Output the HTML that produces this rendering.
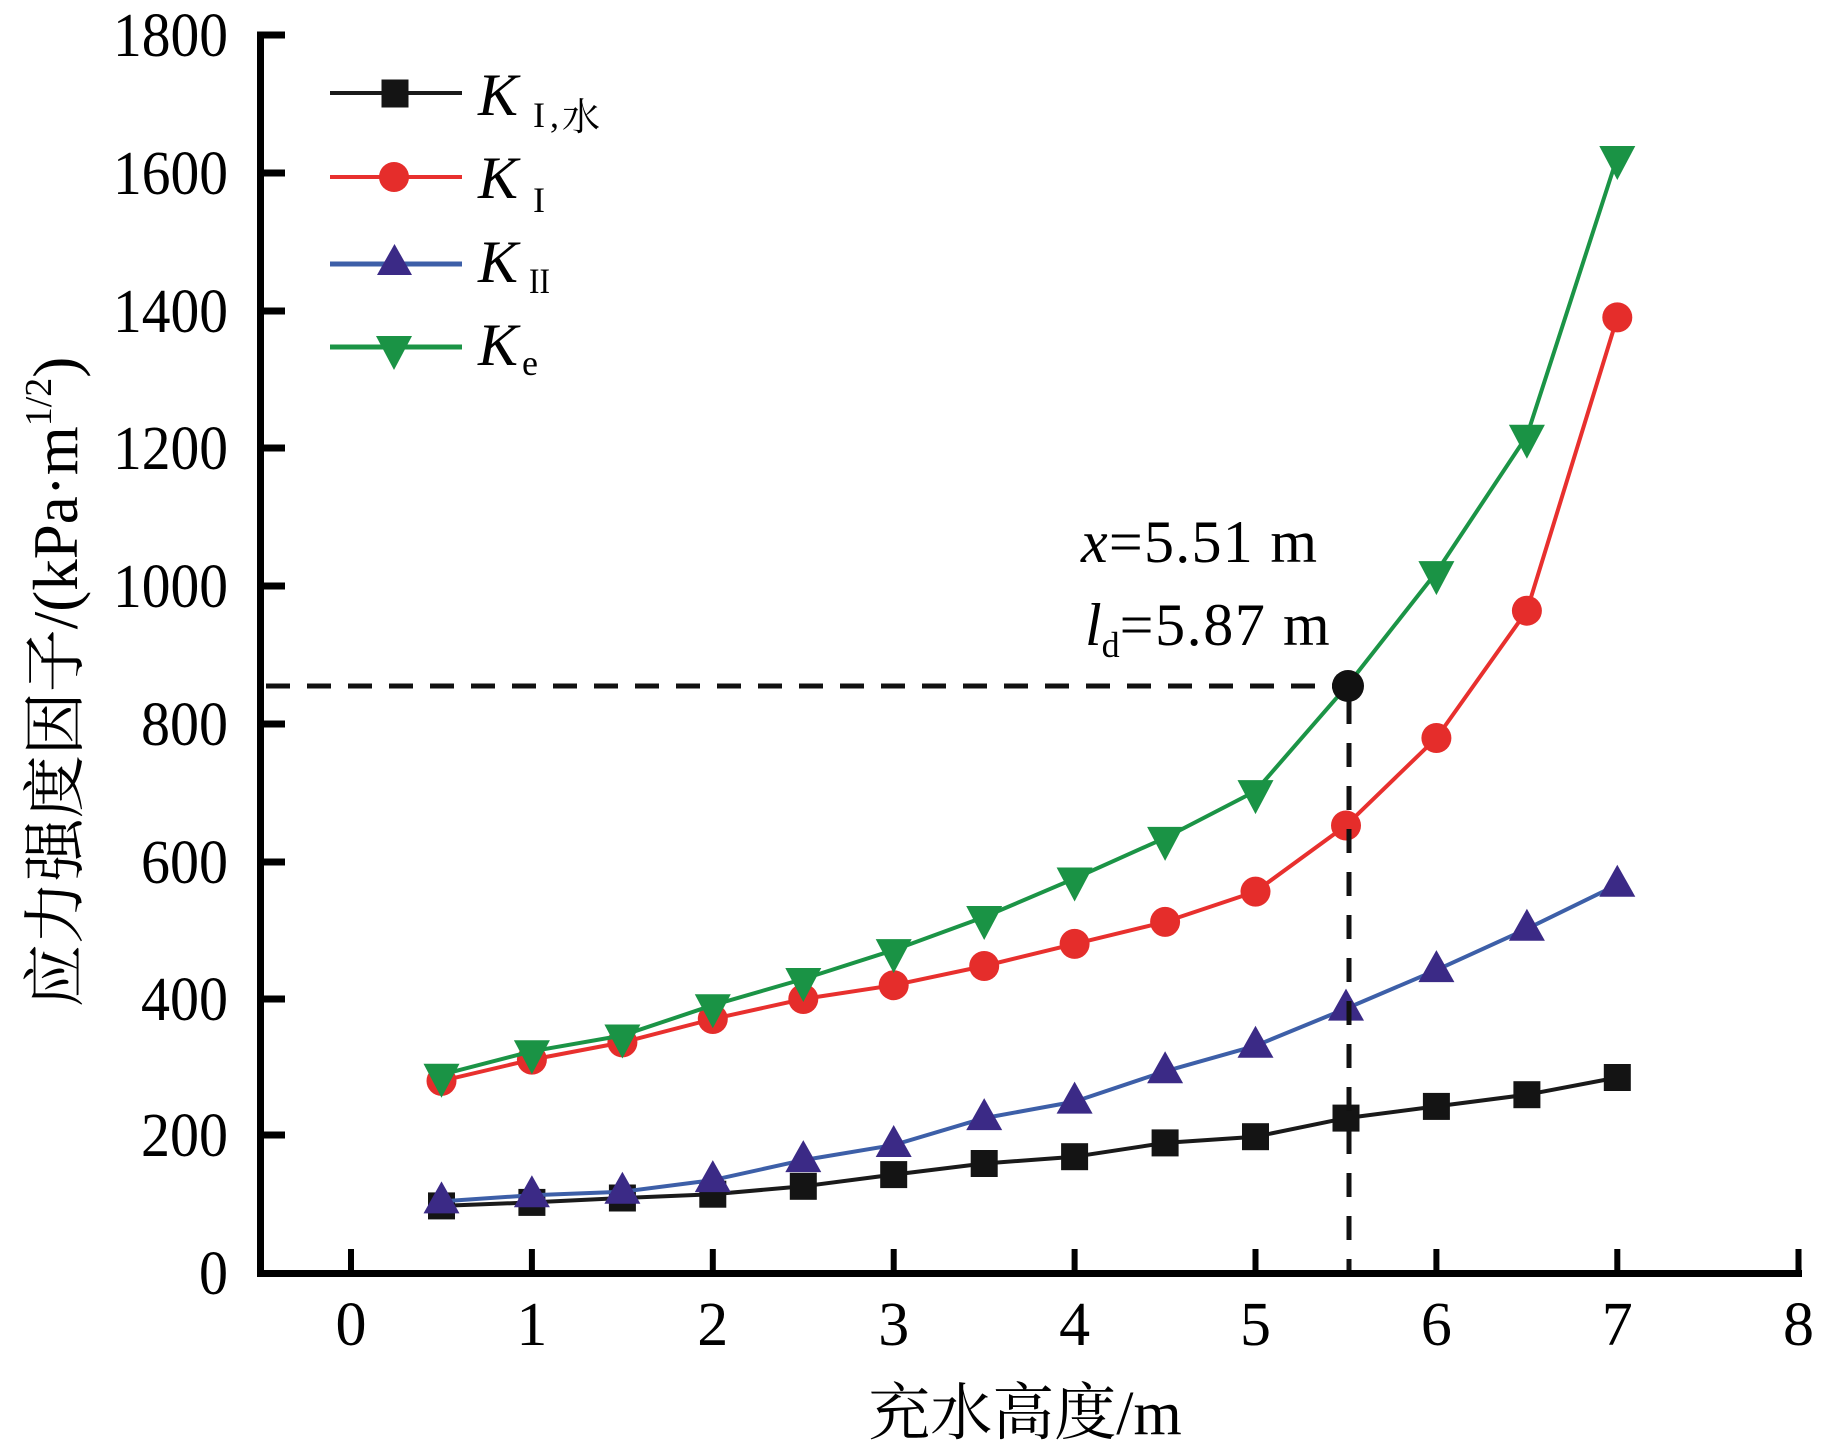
<!DOCTYPE html>
<html>
<head>
<meta charset="utf-8">
<style>
  html, body { margin: 0; padding: 0; background: #ffffff; }
  svg { display: block; }
  .lat { font-family: "Liberation Serif", "Noto Serif CJK SC", serif; }
  .cjk { font-family: "Liberation Serif", "Noto Serif CJK SC", "Noto Sans CJK SC", serif; }
</style>
</head>
<body>
<svg width="1829" height="1454" viewBox="0 0 1829 1454" xmlns="http://www.w3.org/2000/svg">
  <rect x="0" y="0" width="1829" height="1454" fill="#ffffff"/>

  <!-- Axes -->
  <line x1="260.5" y1="31.5" x2="260.5" y2="1277" stroke="#000" stroke-width="7"/>
  <line x1="257" y1="1273.5" x2="1802" y2="1273.5" stroke="#000" stroke-width="7"/>

  <!-- Y ticks -->
  <g stroke="#000" stroke-width="7">
    <line x1="262" y1="35" x2="285" y2="35"/>
    <line x1="262" y1="173" x2="285" y2="173"/>
    <line x1="262" y1="311" x2="285" y2="311"/>
    <line x1="262" y1="448" x2="285" y2="448"/>
    <line x1="262" y1="586" x2="285" y2="586"/>
    <line x1="262" y1="724" x2="285" y2="724"/>
    <line x1="262" y1="862" x2="285" y2="862"/>
    <line x1="262" y1="999" x2="285" y2="999"/>
    <line x1="262" y1="1135" x2="285" y2="1135"/>
  </g>
  <!-- X ticks -->
  <g stroke="#000" stroke-width="6">
    <line x1="351" y1="1249" x2="351" y2="1272"/>
    <line x1="531.9" y1="1249" x2="531.9" y2="1272"/>
    <line x1="712.8" y1="1249" x2="712.8" y2="1272"/>
    <line x1="893.7" y1="1249" x2="893.7" y2="1272"/>
    <line x1="1074.6" y1="1249" x2="1074.6" y2="1272"/>
    <line x1="1255.5" y1="1249" x2="1255.5" y2="1272"/>
    <line x1="1436.4" y1="1249" x2="1436.4" y2="1272"/>
    <line x1="1617.3" y1="1249" x2="1617.3" y2="1272"/>
    <line x1="1798.5" y1="1249" x2="1798.5" y2="1272"/>
  </g>

  <!-- Y tick labels -->
  <g class="lat" font-size="62" fill="#000" text-anchor="end">
    <text x="228" y="56" textLength="115" lengthAdjust="spacingAndGlyphs">1800</text>
    <text x="228" y="194" textLength="115" lengthAdjust="spacingAndGlyphs">1600</text>
    <text x="228" y="332" textLength="115" lengthAdjust="spacingAndGlyphs">1400</text>
    <text x="228" y="469" textLength="115" lengthAdjust="spacingAndGlyphs">1200</text>
    <text x="228" y="607" textLength="115" lengthAdjust="spacingAndGlyphs">1000</text>
    <text x="228" y="745" textLength="87" lengthAdjust="spacingAndGlyphs">800</text>
    <text x="228" y="883" textLength="87" lengthAdjust="spacingAndGlyphs">600</text>
    <text x="228" y="1020" textLength="87" lengthAdjust="spacingAndGlyphs">400</text>
    <text x="228" y="1156" textLength="87" lengthAdjust="spacingAndGlyphs">200</text>
    <text x="228" y="1294" textLength="29" lengthAdjust="spacingAndGlyphs">0</text>
  </g>

  <!-- X tick labels -->
  <g class="lat" font-size="62" fill="#000" text-anchor="middle">
    <text x="351" y="1345">0</text>
    <text x="531.9" y="1345">1</text>
    <text x="712.8" y="1345">2</text>
    <text x="893.7" y="1345">3</text>
    <text x="1074.6" y="1345">4</text>
    <text x="1255.5" y="1345">5</text>
    <text x="1436.4" y="1345">6</text>
    <text x="1617.3" y="1345">7</text>
    <text x="1798.5" y="1345">8</text>
  </g>

  <!-- X axis label -->
  <text class="cjk" x="1025" y="1434" font-size="62" text-anchor="middle" fill="#000">充水高度/m</text>

  <!-- Y axis label -->
  <g transform="translate(77,682) rotate(-90)">
    <text class="cjk" x="0" y="0" font-size="63" text-anchor="middle" fill="#000">应力强度因子/(kPa·m<tspan font-size="38" dy="-26">1/2</tspan><tspan dy="26">)</tspan></text>
  </g>

  <!-- Series: K_I,water (black squares) -->
  <polyline fill="none" stroke="#1a1a1a" stroke-width="4" stroke-linejoin="round"
    points="441.5,1205.9 531.9,1202.4 622.4,1198 712.8,1194.2 803.3,1186.3 893.7,1174.6 984.2,1163.5 1074.6,1156.7 1165.1,1142.9 1255.5,1136.7 1346,1118.1 1436.4,1106.4 1526.9,1094.7 1617.3,1077.5"/>
  <g fill="#141414">
    <rect x="428" y="1192.4" width="27" height="27"/>
    <rect x="518.4" y="1188.9" width="27" height="27"/>
    <rect x="608.9" y="1184.5" width="27" height="27"/>
    <rect x="699.3" y="1180.7" width="27" height="27"/>
    <rect x="789.8" y="1172.8" width="27" height="27"/>
    <rect x="880.2" y="1161.1" width="27" height="27"/>
    <rect x="970.7" y="1150" width="27" height="27"/>
    <rect x="1061.1" y="1143.2" width="27" height="27"/>
    <rect x="1151.6" y="1129.4" width="27" height="27"/>
    <rect x="1242" y="1123.2" width="27" height="27"/>
    <rect x="1332.5" y="1104.6" width="27" height="27"/>
    <rect x="1422.9" y="1092.9" width="27" height="27"/>
    <rect x="1513.4" y="1081.2" width="27" height="27"/>
    <rect x="1603.8" y="1064" width="27" height="27"/>
  </g>

  <!-- Series: K_I (red circles) -->
  <polyline fill="none" stroke="#e8302e" stroke-width="4" stroke-linejoin="round"
    points="441.5,1080.9 531.9,1059.6 622.4,1042.4 712.8,1019 803.3,999 893.7,985.2 984.2,966 1074.6,943.9 1165.1,921.9 1255.5,891.6 1346,825.5 1436.4,738 1526.9,610.7 1617.3,317.4"/>
  <g fill="#e52d2b">
    <circle cx="441.5" cy="1080.9" r="15"/>
    <circle cx="531.9" cy="1059.6" r="15"/>
    <circle cx="622.4" cy="1042.4" r="15"/>
    <circle cx="712.8" cy="1019" r="15"/>
    <circle cx="803.3" cy="999" r="15"/>
    <circle cx="893.7" cy="985.2" r="15"/>
    <circle cx="984.2" cy="966" r="15"/>
    <circle cx="1074.6" cy="943.9" r="15"/>
    <circle cx="1165.1" cy="921.9" r="15"/>
    <circle cx="1255.5" cy="891.6" r="15"/>
    <circle cx="1346" cy="825.5" r="15"/>
    <circle cx="1436.4" cy="738" r="15"/>
    <circle cx="1526.9" cy="610.7" r="15"/>
    <circle cx="1617.3" cy="317.4" r="15"/>
  </g>

  <!-- Series: K_II (blue up triangles) -->
  <polyline fill="none" stroke="#3d5fa8" stroke-width="4" stroke-linejoin="round"
    points="441.5,1201.4 531.9,1195.2 622.4,1191.8 712.8,1180.1 803.3,1160.1 893.7,1145 984.2,1118.1 1074.6,1101.6 1165.1,1071.3 1255.5,1045.8 1346,1008.6 1436.4,970.1 1526.9,928.8 1617.3,884.7"/>
  <g fill="#3b2a86">
    <polygon points="441.5,1181.4 459.5,1213.4 423.5,1213.4"/>
    <polygon points="531.9,1175.2 549.9,1207.2 513.9,1207.2"/>
    <polygon points="622.4,1171.8 640.4,1203.8 604.4,1203.8"/>
    <polygon points="712.8,1160.1 730.8,1192.1 694.8,1192.1"/>
    <polygon points="803.3,1140.1 821.3,1172.1 785.3,1172.1"/>
    <polygon points="893.7,1125 911.7,1157 875.7,1157"/>
    <polygon points="984.2,1098.1 1002.2,1130.1 966.2,1130.1"/>
    <polygon points="1074.6,1081.6 1092.6,1113.6 1056.6,1113.6"/>
    <polygon points="1165.1,1051.3 1183.1,1083.3 1147.1,1083.3"/>
    <polygon points="1255.5,1025.8 1273.5,1057.8 1237.5,1057.8"/>
    <polygon points="1346,988.6 1364,1020.6 1328,1020.6"/>
    <polygon points="1436.4,950.1 1454.4,982.1 1418.4,982.1"/>
    <polygon points="1526.9,908.8 1544.9,940.8 1508.9,940.8"/>
    <polygon points="1617.3,864.7 1635.3,896.7 1599.3,896.7"/>
  </g>

  <!-- Series: K_e (green down triangles) -->
  <polyline fill="none" stroke="#1b9446" stroke-width="4" stroke-linejoin="round"
    points="441.5,1074.7 531.9,1051.3 622.4,1035.5 712.8,1005.2 803.3,979 893.7,950.1 984.2,917 1074.6,878.5 1165.1,837.9 1255.5,791.1 1346,687.1 1436.4,572.1 1526.9,435.8 1617.3,157"/>
  <g fill="#1a9345">
    <polygon points="423.5,1063.7 459.5,1063.7 441.5,1097.7"/>
    <polygon points="513.9,1040.3 549.9,1040.3 531.9,1074.3"/>
    <polygon points="604.4,1024.5 640.4,1024.5 622.4,1058.5"/>
    <polygon points="694.8,994.2 730.8,994.2 712.8,1028.2"/>
    <polygon points="785.3,968 821.3,968 803.3,1002"/>
    <polygon points="875.7,939.1 911.7,939.1 893.7,973.1"/>
    <polygon points="966.2,906 1002.2,906 984.2,940"/>
    <polygon points="1056.6,867.5 1092.6,867.5 1074.6,901.5"/>
    <polygon points="1147.1,826.9 1183.1,826.9 1165.1,860.9"/>
    <polygon points="1237.5,780.1 1273.5,780.1 1255.5,814.1"/>
    <polygon points="1418.4,561.1 1454.4,561.1 1436.4,595.1"/>
    <polygon points="1508.9,424.8 1544.9,424.8 1526.9,458.8"/>
    <polygon points="1599.3,146 1635.3,146 1617.3,180"/>
  </g>

  <!-- Dashed guide lines -->
  <line x1="266" y1="686" x2="1336" y2="686" stroke="#111" stroke-width="5" stroke-dasharray="24 17"/>
  <line x1="1349" y1="700" x2="1349" y2="1270" stroke="#111" stroke-width="5" stroke-dasharray="24 19"/>
  <circle cx="1348" cy="686" r="16" fill="#111"/>

  <!-- Annotation -->
  <text class="lat" x="1081" y="562" font-size="60" fill="#000" textLength="236" lengthAdjust="spacing"><tspan font-style="italic">x</tspan>=5.51 m</text>
  <text class="lat" x="1085" y="645" font-size="60" fill="#000"><tspan font-style="italic">l</tspan><tspan font-size="36" dy="12">d</tspan><tspan dy="-12" textLength="210" lengthAdjust="spacing">=5.87 m</tspan></text>

  <!-- Legend -->
  <line x1="330" y1="93" x2="462" y2="93" stroke="#1a1a1a" stroke-width="4"/>
  <rect x="381.5" y="79.5" width="27" height="28" fill="#141414"/>
  <text class="lat" x="478" y="115" font-size="60" font-style="italic" fill="#000">K</text>
  <text class="lat" x="533" y="127" font-size="36" fill="#000">I</text>
  <text class="lat" x="550" y="127" font-size="36" fill="#000">,</text>
  <text class="cjk" x="562" y="130" font-size="38" fill="#000">水</text>

  <line x1="330" y1="177" x2="462" y2="177" stroke="#e8302e" stroke-width="4"/>
  <circle cx="394" cy="177" r="15" fill="#e52d2b"/>
  <text class="lat" x="478" y="198" font-size="60" font-style="italic" fill="#000">K</text>
  <text class="lat" x="533" y="212" font-size="36" fill="#000">I</text>

  <line x1="330" y1="264" x2="462" y2="264" stroke="#3d5fa8" stroke-width="5"/>
  <polygon points="394.5,244 412,275 377,275" fill="#3b2a86"/>
  <text class="lat" x="478" y="282" font-size="60" font-style="italic" fill="#000">K</text>
  <text class="lat" x="529" y="293" font-size="36" fill="#000" textLength="21" lengthAdjust="spacingAndGlyphs">II</text>

  <line x1="330" y1="347" x2="462" y2="347" stroke="#1b9446" stroke-width="5"/>
  <polygon points="376,336 412,336 394,370" fill="#1a9345"/>
  <text class="lat" x="478" y="365" font-size="60" font-style="italic" fill="#000">K</text>
  <text class="lat" x="522" y="375" font-size="36" fill="#000">e</text>
</svg>
</body>
</html>
